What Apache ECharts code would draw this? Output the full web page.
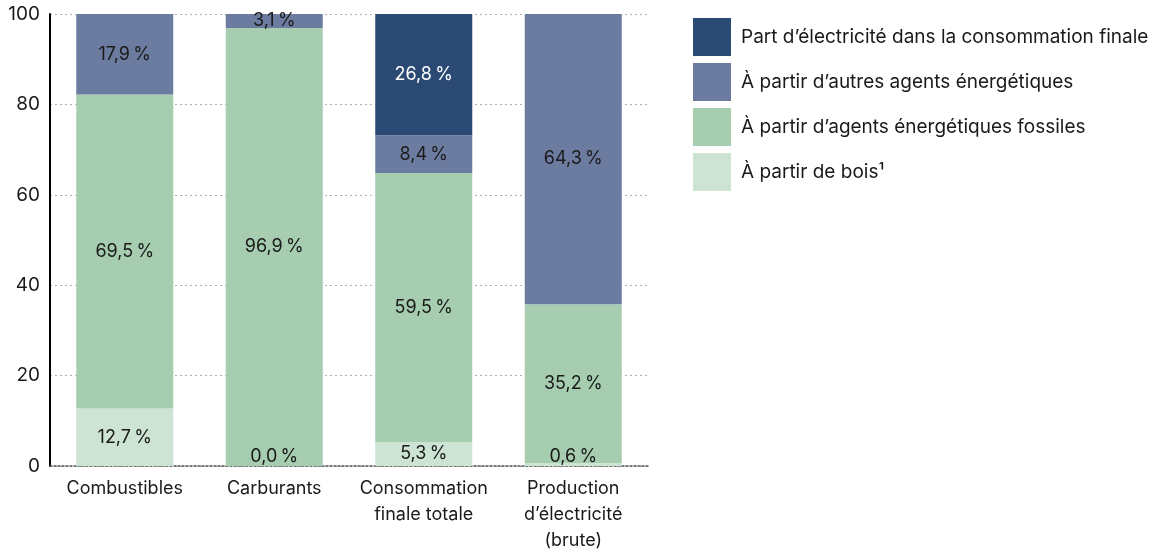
<!DOCTYPE html>
<html>
<head>
<meta charset="utf-8">
<script src="https://cdn.jsdelivr.net/npm/echarts@6/dist/echarts.min.js"></script>
<style>
  html, body { margin: 0; padding: 0; background: #fff; }
  #chart { width: 1166px; height: 555px; }
</style>
</head>
<body>
<div id="chart"></div>
<script>
// catégories et parts (%)
var categories = ['Combustibles', 'Carburants', 'Consommation\nfinale totale', 'Production\nd\u2019électricité\n(brute)'];
var bois = [12.7, 0.0, 5.3, 0.6];
var fossiles = [69.5, 96.9, 59.5, 35.2];
var autres = [17.9, 3.1, 8.4, 64.3];
var electricite = [null, null, 26.8, null];
var yTicks = [0, 20, 40, 60, 80, 100];

var FONT = 'Inter, "Noto Sans", sans-serif';

function fmt(p) {
  return p.value.toFixed(1).replace('.', ',') + '\u2009%';
}

// petits segments: étiquette posée en bas de la barre
function lowData(arr) {
  return arr.map(function (v) {
    if (v !== null && v < 2) {
      return { value: v, label: { position: 'insideBottom', distance: 0 } };
    }
    return v;
  });
}

function bar(name, data, color, textColor) {
  return {
    name: name, type: 'bar', stack: 'total', data: data,
    barWidth: 97,
    itemStyle: { color: color },
    label: {
      show: true, position: 'inside', formatter: fmt,
      color: textColor, fontSize: 18, fontFamily: FONT
    }
  };
}

var chart = echarts.init(document.getElementById('chart'));
chart.setOption({
  animation: false,
  grid: { left: 50, top: 14, width: 598, bottom: 89, containLabel: false, outerBoundsMode: 'none' },
  legend: {
    orient: 'vertical', left: 688, top: 13,
    itemWidth: 38, itemHeight: 38, itemGap: 7,
    icon: 'rect',
    data: ['Part d\u2019électricité dans la consommation finale',
           'À partir d\u2019autres agents énergétiques',
           'À partir d\u2019agents énergétiques fossiles',
           'À partir de bois\u00b9'],
    textStyle: { fontSize: 19, fontFamily: FONT, color: '#1a1a1a', padding: [0, 0, 0, 5] },
    selectedMode: false
  },
  xAxis: {
    type: 'category', data: categories,
    axisLine: { lineStyle: { color: '#555', type: [2, 2], width: 1.5 } },
    axisTick: { show: false },
    axisLabel: { interval: 0, fontSize: 18, fontFamily: FONT, color: '#1a1a1a', margin: 10, lineHeight: 26 }
  },
  yAxis: {
    type: 'value', min: 0, max: 100, interval: 20,
    axisLine: { show: true, lineStyle: { color: '#000', width: 2 } },
    axisTick: { show: false },
    axisLabel: {
      fontSize: 19, fontFamily: FONT, color: '#1a1a1a', margin: 10,
      formatter: function (v) { return yTicks.indexOf(v) >= 0 ? String(v) : ''; }
    },
    splitLine: { lineStyle: { color: '#b0b0b0', type: [2, 3] } }
  },
  series: [
    bar('À partir de bois\u00b9', lowData(bois), '#cde3d3', '#1a1a1a'),
    bar('À partir d\u2019agents énergétiques fossiles', fossiles, '#a6cdb0', '#1a1a1a'),
    bar('À partir d\u2019autres agents énergétiques', autres, '#6c7ca0', '#1a1a1a'),
    bar('Part d\u2019électricité dans la consommation finale', electricite, '#2a4a74', '#ffffff')
  ]
});
</script>
</body>
</html>
